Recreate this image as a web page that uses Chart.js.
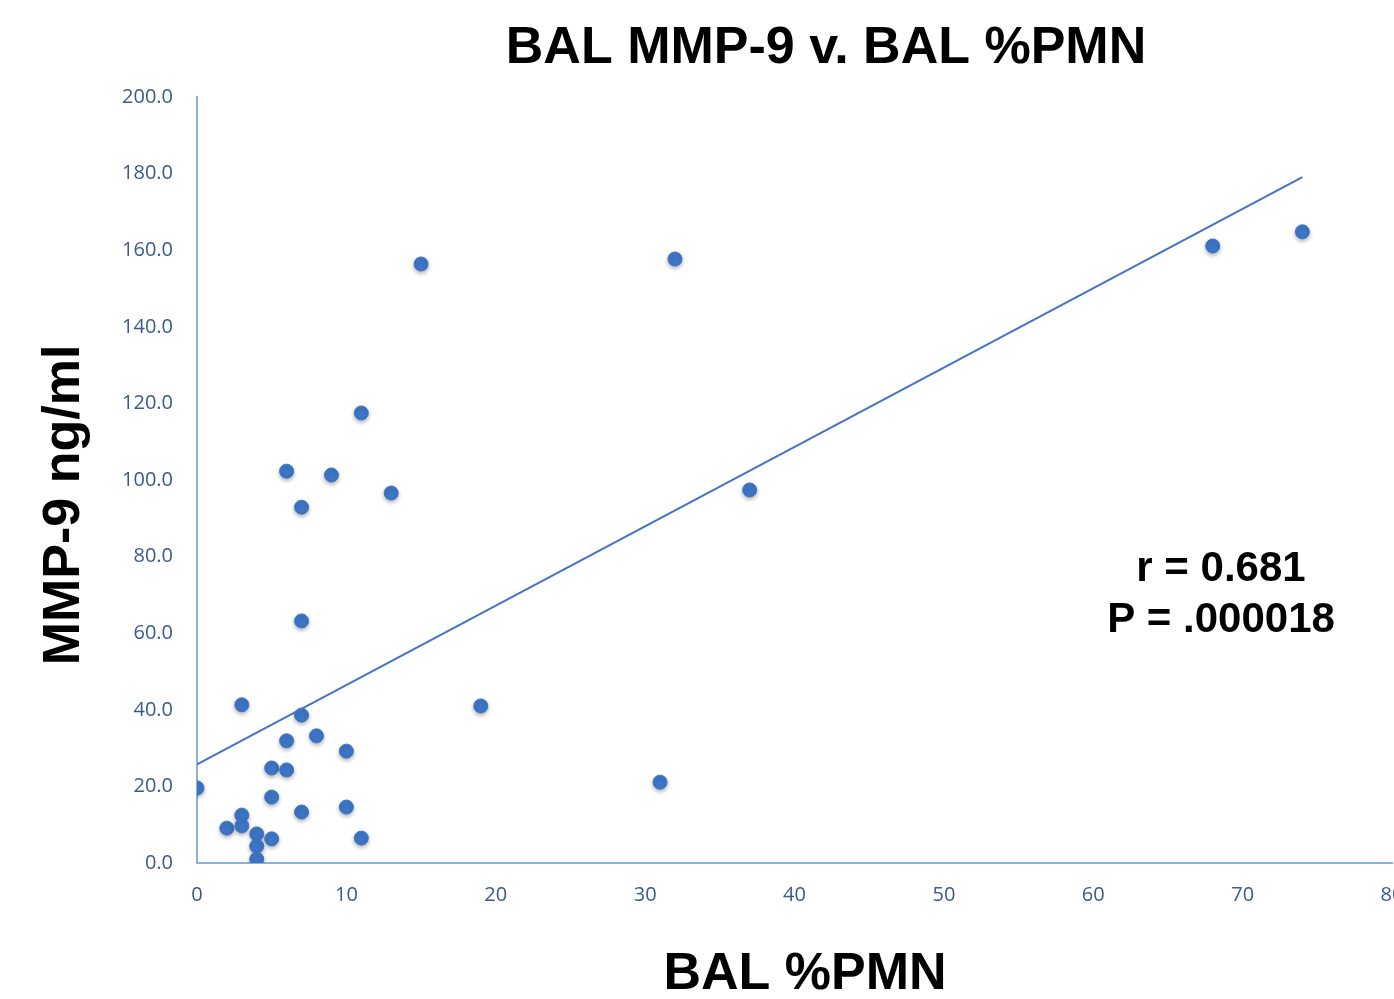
<!DOCTYPE html>
<html>
<head>
<meta charset="utf-8">
<script src="https://cdn.jsdelivr.net/npm/chart.js@4.4.1/dist/chart.umd.min.js"></script>
<style>
html,body{margin:0;padding:0;background:#fff;overflow:hidden;}
canvas{display:block;}
</style>
</head>
<body>
<canvas id="c" width="1400" height="999"></canvas>
<script>
// ---- Data ----
const pmn  = [0, 2, 3, 3, 3, 4, 4, 4, 5, 5, 5, 6, 6, 6, 7, 7, 7, 7, 8, 9, 10, 10, 11, 11, 13, 15, 19, 31, 32, 37, 68, 74];
const mmp9 = [19.6, 9.1, 12.5, 9.7, 41.3, 7.6, 4.4, 1.0, 6.3, 17.2, 24.8, 24.3, 31.9, 102.3, 13.3, 38.6, 63.2, 92.9, 33.2, 101.3, 29.2, 14.6, 6.5, 117.5, 96.6, 156.4, 41.0, 21.1, 157.7, 97.4, 161.1, 164.8];
const chartTitle = 'BAL MMP-9 v. BAL %PMN';
const xTitle = 'BAL %PMN';
const yTitle = 'MMP-9 ng/ml';
const statLines = ['r = 0.681', 'P = .000018'];
const xTicks = [0, 10, 20, 30, 40, 50, 60, 70, 80];
const yTicks = [0, 20, 40, 60, 80, 100, 120, 140, 160, 180, 200];

// ---- Linear trendline (least squares) ----
const n = pmn.length;
const mx = pmn.reduce((a, b) => a + b, 0) / n;
const my = mmp9.reduce((a, b) => a + b, 0) / n;
let sxy = 0, sxx = 0;
for (let i = 0; i < n; i++) { sxy += (pmn[i] - mx) * (mmp9[i] - my); sxx += (pmn[i] - mx) ** 2; }
const slope = sxy / sxx;
const intercept = my - slope * mx;
const xMinD = Math.min(...pmn), xMaxD = Math.max(...pmn);
const trend = [{x: xMinD, y: intercept + slope * xMinD}, {x: xMaxD, y: intercept + slope * xMaxD}];

const points = pmn.map((x, i) => ({x, y: mmp9[i]}));

const tickColor = '#3A5A8C';
const axisColor = '#8DB0E3';
const markColor = '#3D76C6';
const lineColor = '#4472C4';

const shadowPlugin = {
  id: 'shadow',
  beforeDatasetDraw(chart, args) {
    if (args.index === 1) {
      const ctx = chart.ctx;
      ctx.save();
      ctx.shadowColor = 'rgba(0,0,0,0.3)';
      ctx.shadowBlur = 4;
      ctx.shadowOffsetY = 2;
    }
  },
  afterDatasetDraw(chart, args) {
    if (args.index === 1) chart.ctx.restore();
  }
};

const textPlugin = {
  id: 'texts',
  afterDraw(chart) {
    const ctx = chart.ctx;
    ctx.save();
    ctx.fillStyle = '#000';
    ctx.textAlign = 'center';
    ctx.textBaseline = 'alphabetic';
    ctx.font = 'bold 52px "Liberation Sans", Arial, sans-serif';
    ctx.fillText(chartTitle, 826, 63);
    ctx.fillText(xTitle, 805, 989);
    ctx.save();
    ctx.translate(79, 505);
    ctx.rotate(-Math.PI / 2);
    ctx.fillText(yTitle, 0, 0);
    ctx.restore();
    ctx.font = 'bold 42px "Liberation Sans", Arial, sans-serif';
    ctx.fillText(statLines[0], 1221, 581);
    ctx.fillText(statLines[1], 1221, 632);
    ctx.restore();
  }
};

new Chart(document.getElementById('c'), {
  type: 'scatter',
  data: {
    datasets: [
      {
        type: 'line',
        data: trend,
        borderColor: lineColor,
        borderWidth: 2,
        pointRadius: 0,
        fill: false,
        tension: 0
      },
      {
        data: points,
        backgroundColor: markColor,
        borderColor: markColor,
        borderWidth: 1,
        pointRadius: 7,
        pointHoverRadius: 7
      }
    ]
  },
  options: {
    responsive: false,
    animation: false,
    events: [],
    layout: { padding: { top: 97, left: 0, right: 1, bottom: 0 } },
    plugins: { legend: { display: false }, tooltip: { enabled: false }, title: { display: false } },
    scales: {
      x: {
        type: 'linear',
        min: 0, max: 80,
        afterBuildTicks(scale) { scale.ticks = xTicks.map(v => ({value: v})); },
        grid: { display: false },
        border: { display: true, color: axisColor, width: 2 },
        ticks: {
          color: tickColor,
          font: { family: '"Open Sans", sans-serif', size: 20 },
          padding: 12,
          maxRotation: 0,
          autoSkip: false,
          callback: v => String(v)
        },
        afterFit(scale) { scale.height = 136; scale.paddingLeft = 0; scale.paddingRight = 0; }
      },
      y: {
        type: 'linear',
        min: 0, max: 200,
        afterBuildTicks(scale) { scale.ticks = yTicks.map(v => ({value: v})); },
        grid: { display: false },
        border: { display: true, color: axisColor, width: 2 },
        ticks: {
          color: tickColor,
          font: { family: '"Open Sans", sans-serif', size: 20 },
          padding: 16,
          autoSkip: false,
          callback: v => Number(v).toFixed(1)
        },
        afterFit(scale) { scale.width = 197; }
      }
    }
  },
  plugins: [shadowPlugin, textPlugin]
});
</script>
</body>
</html>
